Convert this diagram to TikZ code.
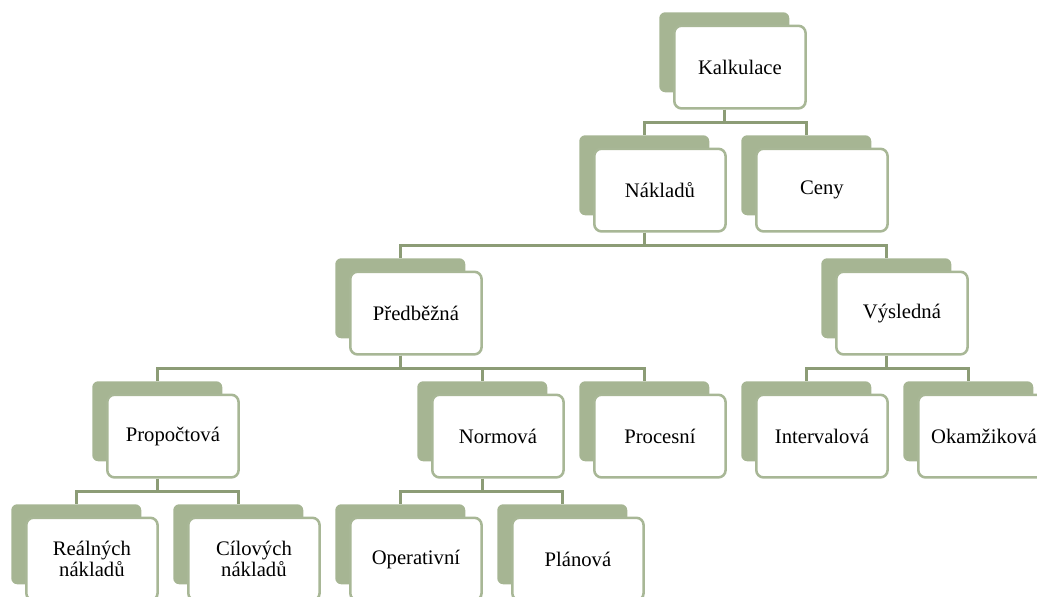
\documentclass[tikz,border=0pt]{standalone}
\usepackage{fontspec}
\setmainfont{Liberation Serif}
\definecolor{olivefill}{RGB}{166,181,147}
\definecolor{oliveedge}{RGB}{168,183,150}
\definecolor{olivelink}{RGB}{140,156,118}
\tikzset{
  backbox/.style={anchor=north west, fill=olivefill, draw=none,
    rounded corners=4.5pt, minimum width=97.5pt, minimum height=60pt,
    inner sep=0pt},
  frontbox/.style={anchor=north west, fill=white, draw=oliveedge,
    line width=1.9pt, rounded corners=5.5pt, minimum width=98.5pt,
    minimum height=62pt, inner sep=2pt, align=center,
    font=\fontsize{15.5}{15.8}\selectfont},
  link/.style={draw=olivelink, line width=1.9pt}
}
% \unit{name}{left edge of the shaded card}{level}{label}
\newcommand{\orgunit}[4]{%
  \pgfmathsetmacro{\ytop}{12+123*#3}%
  \node[backbox] (#1-b) at (#2,\ytop) {};
  \node[frontbox] (#1) at ({#2+14},{\ytop+12.5}) {#4};
}
% elbow connector from a parent card down to a child card
\newcommand{\orglink}[2]{%
  \draw[link] (#1-b.south |- #1.south) -- ++(0,13) -| (#2-b.north);
}
\begin{document}
\begin{tikzpicture}[x=0.75pt,y=-0.75pt]
  \path[use as bounding box] (0,0) rectangle (1037,596);
  \clip (0,0) rectangle (1037,596);

  % level 0
  \orgunit{kal}{659}{0}{Kalkulace}
  % level 1
  \orgunit{nak}{579}{1}{Nákladů}
  \orgunit{cen}{741}{1}{Ceny}
  % level 2
  \orgunit{pre}{335}{2}{Předběžná}
  \orgunit{vys}{821}{2}{Výsledná}
  % level 3
  \orgunit{pro}{92}{3}{Propočtová}
  \orgunit{nor}{417}{3}{Normová}
  \orgunit{prc}{579}{3}{Procesní}
  \orgunit{int}{741}{3}{Intervalová}
  \orgunit{oka}{903}{3}{Okamžiková}
  % level 4
  \orgunit{rea}{11}{4}{Reálných\\nákladů}
  \orgunit{cil}{173}{4}{Cílových\\nákladů}
  \orgunit{ope}{335}{4}{Operativní}
  \orgunit{pla}{497}{4}{Plánová}

  % connectors
  \orglink{kal}{nak}
  \orglink{kal}{cen}
  \orglink{nak}{pre}
  \orglink{nak}{vys}
  \orglink{pre}{pro}
  \orglink{pre}{nor}
  \orglink{pre}{prc}
  \orglink{vys}{int}
  \orglink{vys}{oka}
  \orglink{pro}{rea}
  \orglink{pro}{cil}
  \orglink{nor}{ope}
  \orglink{nor}{pla}
\end{tikzpicture}
\end{document}
